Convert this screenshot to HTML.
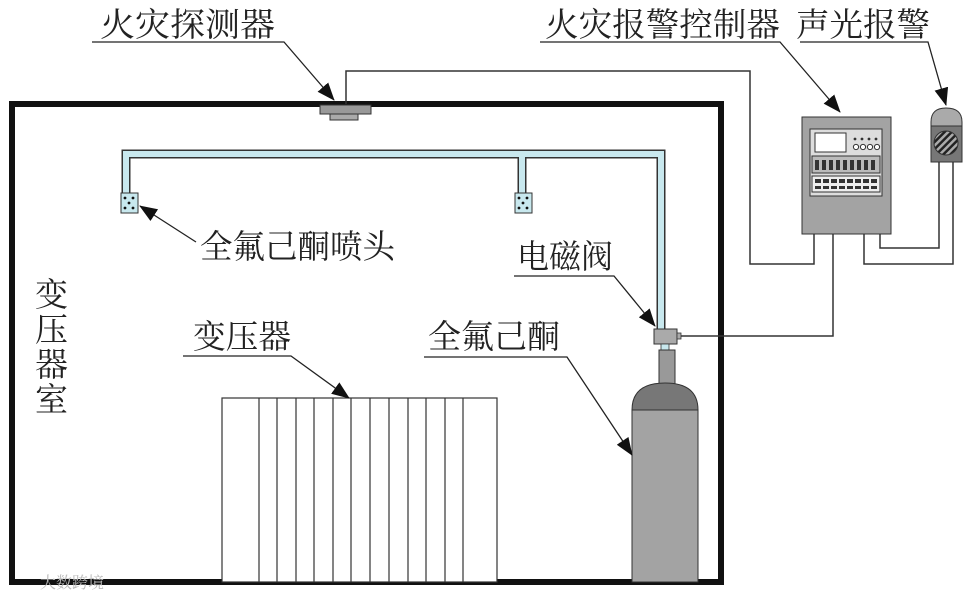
<!DOCTYPE html>
<html><head><meta charset="utf-8"><style>
html,body{margin:0;padding:0;background:#fff;}
svg{display:block;}
text{font-family:"Liberation Serif","Noto Serif CJK SC",serif;font-size:33px;fill:#222;}
</style></head><body>
<svg width="968" height="599" viewBox="0 0 968 599" xmlns="http://www.w3.org/2000/svg">
<defs>
<marker id="b" markerWidth="18" markerHeight="14" refX="17" refY="7" orient="auto" markerUnits="userSpaceOnUse" viewBox="0 0 18 14">
<path d="M0,0 L18,7 L0,14 z" fill="#111"/></marker>
<pattern id="h" width="5" height="5" patternUnits="userSpaceOnUse" patternTransform="rotate(45)">
<rect width="5" height="5" fill="#aaa"/><rect width="2.5" height="5" fill="#222"/></pattern>
</defs>

<rect x="12" y="104" width="709" height="478" fill="none" stroke="#111" stroke-width="6"/>

<g fill="none" stroke="#333" stroke-width="1.5">
<polyline points="346,104 346,71 750,71 750,264 814,264 814,234"/>
<polyline points="833,234 833,336 681,336"/>
<polyline points="864,234 864,264 953,264 953,162"/>
<polyline points="880,234 880,248 939,248 939,162"/>
</g>

<rect x="320" y="105" width="51" height="9" fill="#999" stroke="#333" stroke-width="1"/>
<rect x="330" y="114" width="28" height="6" fill="#aaa" stroke="#333" stroke-width="1"/>

<g fill="none" stroke="#333" stroke-width="9" stroke-linejoin="miter">
<polyline points="126,193 126,154 661,154 661,330"/>
<polyline points="522,154 522,193"/>
</g>
<g fill="none" stroke="#c8e8ee" stroke-width="6" stroke-linejoin="miter">
<polyline points="126,194 126,154 661,154 661,331"/>
<polyline points="522,154 522,194"/>
</g>

<g fill="#c8e8ee" stroke="#333" stroke-width="1">
<rect x="121" y="193" width="17" height="20"/>
<rect x="515" y="193" width="17" height="20"/>
</g>
<g fill="#111">
<circle cx="125" cy="198" r="1.4"/><circle cx="133" cy="198" r="1.4"/><circle cx="129" cy="203" r="1.4"/><circle cx="125" cy="208" r="1.4"/><circle cx="133" cy="208" r="1.4"/>
<circle cx="519" cy="198" r="1.4"/><circle cx="527" cy="198" r="1.4"/><circle cx="523" cy="203" r="1.4"/><circle cx="519" cy="208" r="1.4"/><circle cx="527" cy="208" r="1.4"/>
</g>

<rect x="654" y="329" width="23" height="15" fill="#aaa" stroke="#333"/>
<rect x="677" y="333" width="4" height="6" fill="#aaa" stroke="#333" stroke-width="0.8"/>
<rect x="661" y="344" width="8" height="6" fill="#c8e8ee" stroke="#333" stroke-width="0.8"/>
<rect x="659" y="350" width="16" height="35" fill="#999" stroke="#333"/>
<path d="M632,410 Q632,383 665,383 Q698,383 698,410 Z" fill="#777" stroke="#333"/>
<rect x="632" y="410" width="66" height="172" fill="#a3a3a3" stroke="#333"/>

<g fill="none" stroke="#333" stroke-width="1.2">
<rect x="222" y="398" width="275" height="184" fill="#fff"/>
<path d="M259,398v184M277,398v184M296,398v184M314,398v184M333,398v184M351,398v184M370,398v184M389,398v184M408,398v184M426,398v184M445,398v184M463,398v184"/>
</g>

<rect x="802" y="117" width="89" height="117" fill="#a3a3a3" stroke="#333"/>
<rect x="810" y="129" width="72" height="67" fill="#ddd" stroke="#333"/>
<rect x="815" y="133" width="31" height="19" fill="#fff" stroke="#333"/>
<g fill="#fff" stroke="#333" stroke-width="1">
<circle cx="856" cy="147" r="2.6"/><circle cx="863" cy="147" r="2.6"/><circle cx="870" cy="147" r="2.6"/><circle cx="877" cy="147" r="2.6"/>
</g>
<g fill="#333"><circle cx="855" cy="139" r="1.4"/><circle cx="862" cy="139" r="1.4"/><circle cx="869" cy="139" r="1.4"/><circle cx="876" cy="139" r="1.4"/></g>
<rect x="812" y="156" width="68" height="17" fill="#bbb" stroke="#333"/>
<rect x="812" y="176" width="68" height="16" fill="#eee" stroke="#333"/>
<g fill="#333">
<rect x="815" y="160" width="4" height="10"/><rect x="822" y="160" width="4" height="10"/><rect x="829" y="160" width="4" height="10"/><rect x="836" y="160" width="4" height="10"/><rect x="843" y="160" width="4" height="10"/><rect x="850" y="160" width="4" height="10"/><rect x="857" y="160" width="4" height="10"/><rect x="864" y="160" width="4" height="10"/><rect x="871" y="160" width="4" height="10"/>
<rect x="815" y="179" width="6" height="4"/><rect x="823" y="179" width="6" height="4"/><rect x="831" y="179" width="6" height="4"/><rect x="839" y="179" width="6" height="4"/><rect x="847" y="179" width="6" height="4"/><rect x="855" y="179" width="6" height="4"/><rect x="863" y="179" width="6" height="4"/><rect x="871" y="179" width="6" height="4"/>
<rect x="815" y="186" width="6" height="3"/><rect x="823" y="186" width="6" height="3"/><rect x="831" y="186" width="6" height="3"/><rect x="839" y="186" width="6" height="3"/><rect x="847" y="186" width="6" height="3"/><rect x="855" y="186" width="6" height="3"/><rect x="863" y="186" width="6" height="3"/><rect x="871" y="186" width="6" height="3"/>
</g>

<path d="M931,126 L931,122 Q931,108 946,108 Q962,108 962,122 L962,126 Z" fill="#aaa" stroke="#333"/>
<rect x="931" y="126" width="31" height="36" fill="#777" stroke="#333"/>
<circle cx="946" cy="143" r="12" fill="url(#h)" stroke="#333"/>

<g fill="none" stroke="#222" stroke-width="1.3">
<polyline points="92,42 284,42 334,100" marker-end="url(#b)"/>
<polyline points="540,42 780,42 840,112" marker-end="url(#b)"/>
<polyline points="800,42 928,42 946,105" marker-end="url(#b)"/>
<polyline points="196,242 140,206" marker-end="url(#b)"/>
<polyline points="514,276 614,276 655,326" marker-end="url(#b)"/>
<polyline points="183,356 291,356 349,398" marker-end="url(#b)"/>
<polyline points="424,357 567,357 632,455" marker-end="url(#b)"/>
</g>

<text x="100" y="36" textLength="175" lengthAdjust="spacingAndGlyphs">火灾探测器</text>
<text x="545" y="36" textLength="235" lengthAdjust="spacingAndGlyphs">火灾报警控制器</text>
<text x="796" y="36" textLength="134" lengthAdjust="spacingAndGlyphs">声光报警</text>
<text x="200" y="258" textLength="195" lengthAdjust="spacingAndGlyphs">全氟己酮喷头</text>
<text x="517" y="268" textLength="96" lengthAdjust="spacingAndGlyphs">电磁阀</text>
<text x="193" y="348" textLength="98" lengthAdjust="spacingAndGlyphs">变压器</text>
<text x="428" y="348" textLength="132" lengthAdjust="spacingAndGlyphs">全氟己酮</text>
<text x="35" y="306">变</text>
<text x="35" y="341">压</text>
<text x="35" y="376">器</text>
<text x="35" y="411">室</text>
<text x="40" y="588" style="font-size:16px;fill:#bbb">大数跨境</text>
</svg>
</body></html>
